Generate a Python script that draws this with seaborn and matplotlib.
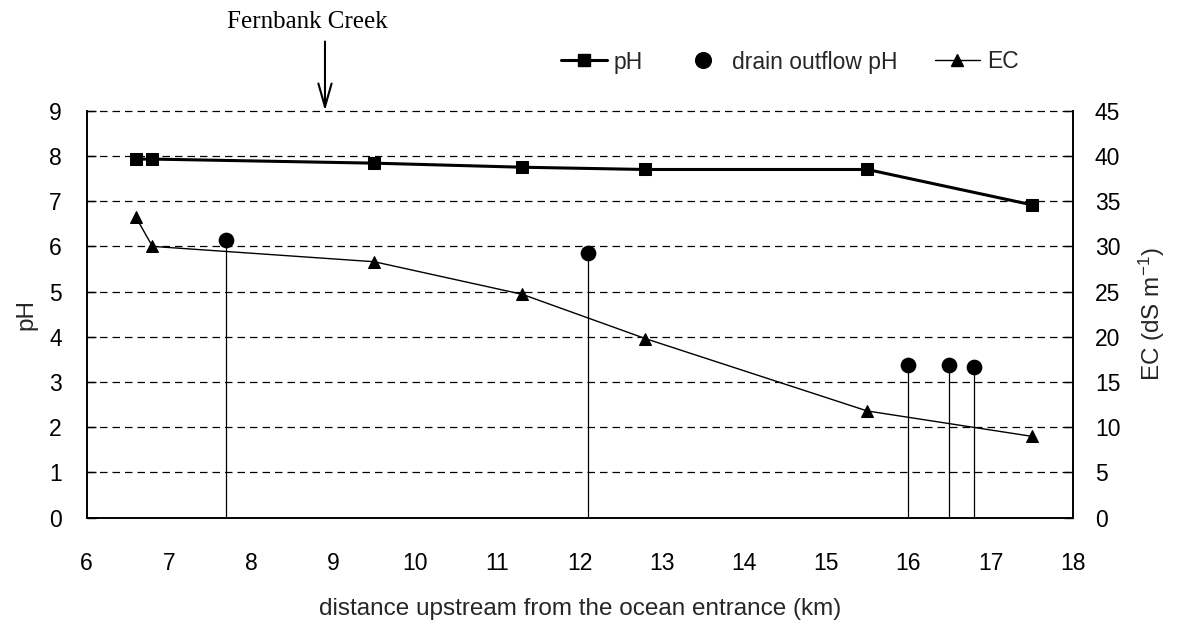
import matplotlib
matplotlib.use("Agg")
import matplotlib.pyplot as plt
import seaborn as sns
import pandas as pd
from matplotlib.lines import Line2D

# River survey: distance upstream (km) vs pH and electrical conductivity
distance = [6.6, 6.8, 9.5, 11.3, 12.8, 15.5, 17.5]
ph_values = [7.93, 7.93, 7.84, 7.75, 7.70, 7.70, 6.92]
ec_values = [33.2, 30.0, 28.3, 24.7, 19.8, 11.8, 9.0]

drain_distance = [7.7, 12.1, 16.0, 16.5, 16.8]
drain_ph = [6.14, 5.86, 3.38, 3.37, 3.34]

x_ticks = list(range(6, 19))
ph_ticks = list(range(0, 10))
ec_ticks = list(range(0, 50, 5))

sns.set_theme(style="white")
plt.rcParams["font.family"] = ["Liberation Sans", "DejaVu Sans"]
plt.rcParams["mathtext.fontset"] = "custom"
plt.rcParams["mathtext.rm"] = "Liberation Sans"
plt.rcParams["mathtext.default"] = "regular"

survey = pd.DataFrame({"distance": distance, "pH": ph_values, "EC": ec_values})
drains = pd.DataFrame({"distance": drain_distance, "pH": drain_ph})

W, H = 1185, 626
fig = plt.figure(figsize=(W / 100, H / 100), dpi=100)
fig.patch.set_facecolor("white")
left, right, bottom, top = 86.7, 1072.7, 517.7, 110.7
ax = fig.add_axes([left / W, 1 - bottom / H, (right - left) / W, (bottom - top) / H])
ax2 = ax.twinx()

FS = 16.5
LFS = 17.5

# Horizontal dashed grid on the pH scale (the top line closes the frame)
for y in ph_ticks[1:]:
    ax.axhline(y, color="black", lw=0.9, ls=(0, (6, 4)), zorder=0, clip_on=False)

# Drain outflow stems and markers
ax.vlines(drains["distance"], 0, drains["pH"], color="black", lw=0.9, zorder=2)
sns.scatterplot(data=drains, x="distance", y="pH", ax=ax, color="black",
                s=128, marker="o", edgecolor="black", linewidth=0, zorder=4,
                legend=False)

# pH along the river
sns.lineplot(data=survey, x="distance", y="pH", ax=ax, color="black", lw=2.2,
             marker="s", markersize=8.5, markeredgecolor="black", zorder=5,
             legend=False)

# EC along the river on the secondary axis
sns.lineplot(data=survey, x="distance", y="EC", ax=ax2, color="black", lw=1.0,
             marker="^", markersize=8, markeredgecolor="black", zorder=5,
             legend=False)

ax.set_xlim(6, 18)
ax.set_ylim(0, 9)
ax2.set_ylim(0, 45)
ax.set_xticks(x_ticks)
ax.set_yticks(ph_ticks)
ax2.set_yticks(ec_ticks)
ax.set_xticklabels([str(v) for v in x_ticks], fontsize=FS)
ax.set_yticklabels([str(v) for v in ph_ticks], fontsize=FS)
ax2.set_yticklabels([str(v) for v in ec_ticks], fontsize=FS)

ax.tick_params(axis="x", direction="in", length=6.5, width=1, pad=25, colors="black")
ax.tick_params(axis="y", direction="in", length=6.5, width=1, pad=18, colors="black")
ax2.tick_params(axis="y", direction="in", length=6.5, width=1, pad=16, colors="black")

for a in (ax, ax2):
    for s in a.spines.values():
        s.set_color("black")
        s.set_linewidth(1.2)
    a.spines["top"].set_visible(False)
    a.grid(False)

ax.set_xlabel("distance upstream from the ocean entrance (km)", fontsize=LFS, labelpad=16)
ax.set_ylabel("pH", fontsize=LFS, labelpad=8)
ax2.set_ylabel("EC (dS m$^{-1}$)", fontsize=LFS, labelpad=12)

# Creek confluence marker above the plot
ax.annotate("", xy=(8.9, 9.0), xytext=(8.9, 10.53), xycoords="data",
            arrowprops=dict(arrowstyle="->, head_length=0.6, head_width=0.17",
                            lw=1.5, color="black", mutation_scale=28,
                            shrinkA=0, shrinkB=0),
            annotation_clip=False)
ax.text(8.69, 10.97, "Fernbank Creek", ha="center", va="center", fontsize=18,
        family="Liberation Serif", color="black", clip_on=False)

handles = [
    Line2D([], [], color="black", lw=2.2, marker="s", markersize=8.5),
    Line2D([], [], color="black", lw=0, marker="o", markersize=11.3),
    Line2D([], [], color="black", lw=1.0, marker="^", markersize=8),
]
fig.legend(handles, ["pH", "drain outflow pH", "EC"], loc="center",
           bbox_to_anchor=(790 / W, 1 - 62 / H), ncol=3, frameon=False,
           fontsize=FS, handlelength=2.0, handletextpad=0.3, columnspacing=1.6)

fig.savefig("out.png", dpi=100, facecolor="white")
